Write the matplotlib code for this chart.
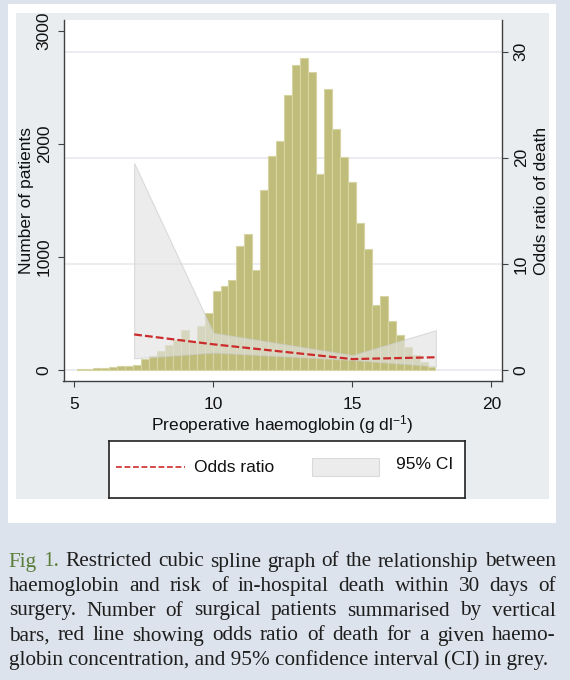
import matplotlib
matplotlib.use("Agg")
import matplotlib.pyplot as plt
import numpy as np
from matplotlib.patches import Rectangle
from matplotlib.lines import Line2D
from matplotlib.transforms import blended_transform_factory

plt.rcParams['font.family'] = ['Liberation Sans', 'DejaVu Sans']
plt.rcParams['mathtext.fontset'] = 'custom'
plt.rcParams['mathtext.rm'] = 'Liberation Sans'
plt.rcParams['mathtext.it'] = 'Liberation Sans:italic'

# histogram: number of patients per haemoglobin bin (g/dl)
bin_start = 5.10
bin_width = 0.2864
patients = [10, 12, 16, 22, 30, 35, 38, 42, 97, 124,
            170, 225, 268, 354, 245, 388, 502, 702, 746, 796,
            1097, 1201, 885, 1593, 1894, 2029, 2434, 2699, 2758, 2634,
            1732, 2484, 2130, 1879, 1658, 1304, 1066, 572, 652, 436,
            310, 206, 133, 68, 29]

# restricted cubic spline: odds ratio of death and 95% CI
spline_hb = [7.15, 10, 15, 18]
odds_ratio = [3.35, 2.42, 1.03, 1.2]
ci_low = [1.1, 1.65, 0.95, 0.35]
ci_high = [19.5, 3.5, 1.4, 3.75]

hb_ticks = [5, 10, 15, 20]
count_ticks = [0, 1000, 2000, 3000]
or_ticks = [0, 10, 20, 30]

caption_lines = [
    "Fig 1. Restricted cubic spline graph of the relationship between",
    "haemoglobin and risk of in-hospital death within 30 days of",
    "surgery. Number of surgical patients summarised by vertical",
    "bars, red line showing odds ratio of death for a given haemo-",
    "globin concentration, and 95% confidence interval (CI) in grey.",
]

W, H = 570, 680
BAR = '#c0bd7b'
BAND = '#e2e2e2'
RED = '#cc2b2b'
AXC = '#404040'


def box(x0, y0, x1, y1):
    return [x0 / W, 1 - y1 / H, (x1 - x0) / W, (y1 - y0) / H]


fig = plt.figure(figsize=(W / 100, H / 100), dpi=100)
fig.patch.set_facecolor('#dde3ec')
for (x0, y0, x1, y1), c in [((8, 4, 556, 523), 'white'),
                            ((16, 13, 549, 499), '#e9edf0')]:
    fig.add_artist(Rectangle((x0 / W, 1 - y1 / H), (x1 - x0) / W, (y1 - y0) / H,
                             transform=fig.transFigure, facecolor=c,
                             edgecolor='none', zorder=-10))

ax = fig.add_axes(box(63.5, 20, 502, 381))
ax.set_facecolor('white')
ax2 = ax.twinx()

# bars
edges = bin_start + bin_width * np.arange(len(patients))
ax.bar(edges, patients, width=bin_width, align='edge', color=BAR,
       edgecolor='#d6d4a2', linewidth=0.8, zorder=2)

# gridlines at the odds-ratio ticks, kept under the bars
grid_tr = blended_transform_factory(ax.transAxes, ax2.transData)
for v in or_ticks:
    ax.add_line(Line2D([0, 1], [v, v], transform=grid_tr, color='#e6e9ed',
                       lw=1.2, zorder=1))

# CI band and odds ratio
ax2.fill_between(spline_hb, ci_low, ci_high, facecolor=BAND, alpha=0.65,
                 edgecolor='#cccccc', lw=0.8, zorder=2)
ax2.plot(spline_hb, odds_ratio, color=RED, lw=1.6, dashes=(3.5, 1.4), zorder=3)

ax.set_xlim(4.608, 20.38)
ax.set_ylim(-97.3, 3094.6)
ax2.set_ylim(-1.037, 32.99)

ax.set_xticks(hb_ticks)
ax.set_yticks(count_ticks)
ax2.set_yticks(or_ticks)
for a in (ax, ax2):
    a.tick_params(direction='out', length=4.5, width=0.8, color=AXC,
                  labelsize=12.5, pad=4, labelcolor='#111111')
    a.tick_params(axis='y', labelrotation=90)
    for t in a.get_yticklabels():
        t.set_va('center')
    for s in a.spines.values():
        s.set_color(AXC)
        s.set_linewidth(1.0)
ax.tick_params(axis='x', pad=7)
ax.spines['top'].set_visible(False)
ax.spines['right'].set_visible(False)
for s in ('top', 'left', 'bottom'):
    ax2.spines[s].set_visible(False)

ax.set_xlabel('Preoperative haemoglobin (g dl$^{-1}$)', fontsize=12.5, color='#111111')
ax.set_ylabel('Number of patients', fontsize=12.5, color='#111111')
ax2.set_ylabel('Odds ratio of death', fontsize=12.5, color='#111111')
ax.xaxis.set_label_coords(0.5, -(413 - 381) / 361)
ax.yaxis.set_label_coords((34 - 63.5) / 438.5, 0.5)
ax2.yaxis.set_label_coords((534 - 63.5) / 438.5, 0.5)

# legend box
lax = fig.add_axes(box(109, 441, 465, 498))
lax.set_xlim(0, 356)
lax.set_ylim(57, 0)
lax.set_xticks([])
lax.set_yticks([])
for s in lax.spines.values():
    s.set_color('#222222')
    s.set_linewidth(1.2)
lax.add_line(Line2D([7, 76], [26, 26], color=RED, lw=1.2, dashes=(3.5, 1.6)))
lax.text(85, 26, 'Odds ratio', fontsize=12.5, va='center', ha='left', color='#111111')
lax.add_patch(Rectangle((203, 17), 67, 18, facecolor=BAND, alpha=0.65,
                        edgecolor='#cccccc', lw=0.8))
lax.text(287, 23.5, '95% CI', fontsize=12.5, va='center', ha='left', color='#111111')

# caption, justified
cap_font = 'Liberation Serif'
cap_left, cap_right = 8.7, 555.6
baselines = [566.5, 591, 615.5, 640.5, 665.5]
renderer = fig.canvas.get_renderer()


def width_px(s, fs):
    t = fig.text(0, 0, s, fontsize=fs, family=cap_font)
    w = t.get_window_extent(renderer).width
    t.remove()
    return w


fs = 13.0
fs = fs * (546.5 - cap_left) / width_px(caption_lines[-1], fs)

for i, line in enumerate(caption_lines):
    words = line.split(' ')
    yb = 1 - baselines[i] / H
    if i == len(caption_lines) - 1:
        fig.text(cap_left / W, yb, line, fontsize=fs, family=cap_font,
                 color='#1e1e1e', va='baseline')
        continue
    widths = [width_px(w, fs) for w in words]
    gap = (cap_right - cap_left - sum(widths)) / (len(words) - 1)
    x = cap_left
    for j, (w, wd) in enumerate(zip(words, widths)):
        col = '#5a7d3a' if (i == 0 and j < 2) else '#1e1e1e'
        fig.text(x / W, yb, w, fontsize=fs, family=cap_font, color=col,
                 va='baseline')
        x += wd + gap

fig.savefig('out.png', dpi=100, facecolor=fig.get_facecolor())
